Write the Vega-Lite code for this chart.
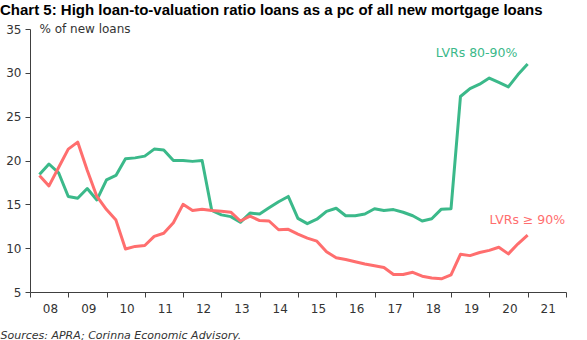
{
  "$schema": "https://vega.github.io/schema/vega-lite/v6.json",
  "width": 536,
  "height": 263,
  "autosize": {"type": "none"},
  "padding": {"left": 30, "top": 29, "right": 21, "bottom": 48},
  "background": "white",
  "title": {
    "text": "Chart 5:  High loan-to-valuation ratio loans as a pc of all new mortgage loans",
    "anchor": "start",
    "frame": "group",
    "dx": -30,
    "offset": 5,
    "font": "Liberation Sans",
    "fontSize": 15,
    "fontWeight": "bold",
    "color": "#000000"
  },
  "config": {
    "view": {"stroke": null},
    "axis": {
      "grid": false,
      "domainColor": "#404040",
      "tickColor": "#404040",
      "labelColor": "#333333",
      "labelFont": "DejaVu Sans",
      "labelFontSize": 12
    }
  },
  "datasets": {
    "series": [
      {"d": "2008-03-31", "g": 18.4, "r": 18.3},
      {"d": "2008-06-30", "g": 19.6, "r": 17.1},
      {"d": "2008-09-30", "g": 18.6, "r": 19.2},
      {"d": "2008-12-31", "g": 15.9, "r": 21.3},
      {"d": "2009-03-31", "g": 15.7, "r": 22.1},
      {"d": "2009-06-30", "g": 16.8, "r": 18.9},
      {"d": "2009-09-30", "g": 15.5, "r": 15.9},
      {"d": "2009-12-31", "g": 17.8, "r": 14.4},
      {"d": "2010-03-31", "g": 18.3, "r": 13.2},
      {"d": "2010-06-30", "g": 20.2, "r": 9.9},
      {"d": "2010-09-30", "g": 20.3, "r": 10.2},
      {"d": "2010-12-31", "g": 20.5, "r": 10.3},
      {"d": "2011-03-31", "g": 21.3, "r": 11.35},
      {"d": "2011-06-30", "g": 21.2, "r": 11.7},
      {"d": "2011-09-30", "g": 20.0, "r": 12.9},
      {"d": "2011-12-31", "g": 20.0, "r": 15.0},
      {"d": "2012-03-31", "g": 19.9, "r": 14.3},
      {"d": "2012-06-30", "g": 20.0, "r": 14.45},
      {"d": "2012-09-30", "g": 14.3, "r": 14.3},
      {"d": "2012-12-31", "g": 13.8, "r": 14.2},
      {"d": "2013-03-31", "g": 13.6, "r": 14.1},
      {"d": "2013-06-30", "g": 12.95, "r": 13.1},
      {"d": "2013-09-30", "g": 14.0, "r": 13.65},
      {"d": "2013-12-31", "g": 13.9, "r": 13.15},
      {"d": "2014-03-31", "g": 14.6, "r": 13.1},
      {"d": "2014-06-30", "g": 15.3, "r": 12.1},
      {"d": "2014-09-30", "g": 15.9, "r": 12.15},
      {"d": "2014-12-31", "g": 13.4, "r": 11.6},
      {"d": "2015-03-31", "g": 12.8, "r": 11.15},
      {"d": "2015-06-30", "g": 13.3, "r": 10.8},
      {"d": "2015-09-30", "g": 14.2, "r": 9.6},
      {"d": "2015-12-31", "g": 14.55, "r": 8.9},
      {"d": "2016-03-31", "g": 13.7, "r": 8.7},
      {"d": "2016-06-30", "g": 13.7, "r": 8.45},
      {"d": "2016-09-30", "g": 13.9, "r": 8.2},
      {"d": "2016-12-31", "g": 14.5, "r": 8.0},
      {"d": "2017-03-31", "g": 14.3, "r": 7.8},
      {"d": "2017-06-30", "g": 14.4, "r": 7.0},
      {"d": "2017-09-30", "g": 14.1, "r": 7.0},
      {"d": "2017-12-31", "g": 13.7, "r": 7.25},
      {"d": "2018-03-31", "g": 13.1, "r": 6.8},
      {"d": "2018-06-30", "g": 13.35, "r": 6.6},
      {"d": "2018-09-30", "g": 14.45, "r": 6.5},
      {"d": "2018-12-31", "g": 14.5, "r": 6.95},
      {"d": "2019-03-31", "g": 27.3, "r": 9.3},
      {"d": "2019-06-30", "g": 28.2, "r": 9.15},
      {"d": "2019-09-30", "g": 28.7, "r": 9.5},
      {"d": "2019-12-31", "g": 29.4, "r": 9.75},
      {"d": "2020-03-31", "g": 28.9, "r": 10.1},
      {"d": "2020-06-30", "g": 28.4, "r": 9.35},
      {"d": "2020-09-30", "g": 29.8, "r": 10.5},
      {"d": "2020-12-31", "g": 31.0, "r": 11.5}
    ],
    "labels": [
      {"d": "2019-09-01", "v": 32.3, "text": "LVRs 80-90%", "series": "LVRs 80-90%"},
      {"d": "2020-12-28", "v": 13.2, "text": "LVRs ≥ 90%", "series": "LVRs ≥ 90%"}
    ]
  },
  "layer": [
    {
      "data": {"name": "series"},
      "transform": [
        {"fold": ["g", "r"], "as": ["key", "value"]},
        {"lookup": "key", "from": {"data": {"values": [{"key": "g", "series": "LVRs 80-90%"}, {"key": "r", "series": "LVRs ≥ 90%"}]}, "key": "key", "fields": ["series"]}}
      ],
      "mark": {"type": "line", "strokeWidth": 3, "strokeJoin": "round"},
      "encoding": {
        "x": {
          "field": "d",
          "type": "temporal",
          "scale": {"type": "utc", "domain": [{"year": 2008, "month": 1, "date": 1, "utc": true}, {"year": 2022, "month": 1, "date": 1, "utc": true}]},
          "axis": {
            "tickCount": {"interval": "year", "step": 1},
            "format": "%y",
            "labelExpr": "datum.label == '22' ? '' : datum.label",
            "labelOffset": 20,
            "labelFlush": false,
            "labelOverlap": false,
            "tickSize": 5,
            "labelPadding": 6,
            "title": "Sources: APRA; Corinna Economic Advisory.",
            "titleFont": "DejaVu Sans",
            "titleFontSize": 11,
            "titleFontStyle": "italic",
            "titleFontWeight": "normal",
            "titleColor": "#333333",
            "titleAnchor": "start",
            "titleAlign": "left",
            "titleBaseline": "alphabetic",
            "titleX": -30,
            "titleY": 46
          }
        },
        "y": {
          "field": "value",
          "type": "quantitative",
          "scale": {"domain": [5, 35], "nice": false, "zero": false},
          "axis": {"values": [5, 10, 15, 20, 25, 30, 35], "tickSize": 5, "labelPadding": 4, "title": null}
        },
        "color": {
          "field": "series",
          "type": "nominal",
          "scale": {"domain": ["LVRs 80-90%", "LVRs ≥ 90%"], "range": ["#3BB98A", "#FF6E6E"]},
          "legend": null
        }
      }
    },
    {
      "data": {"name": "labels"},
      "mark": {"type": "text", "font": "DejaVu Sans", "fontSize": 12.5, "align": "center", "baseline": "middle"},
      "encoding": {
        "x": {"field": "d", "type": "temporal"},
        "y": {"field": "v", "type": "quantitative"},
        "text": {"field": "text"},
        "color": {"field": "series", "type": "nominal"}
      }
    },
    {
      "data": {"values": [{"d": "2008-03-31", "v": 35, "text": "% of new loans"}]},
      "mark": {"type": "text", "font": "DejaVu Sans", "fontSize": 12, "align": "left", "baseline": "middle", "color": "#333333"},
      "encoding": {
        "x": {"field": "d", "type": "temporal"},
        "y": {"field": "v", "type": "quantitative"},
        "text": {"field": "text"}
      }
    }
  ]
}
